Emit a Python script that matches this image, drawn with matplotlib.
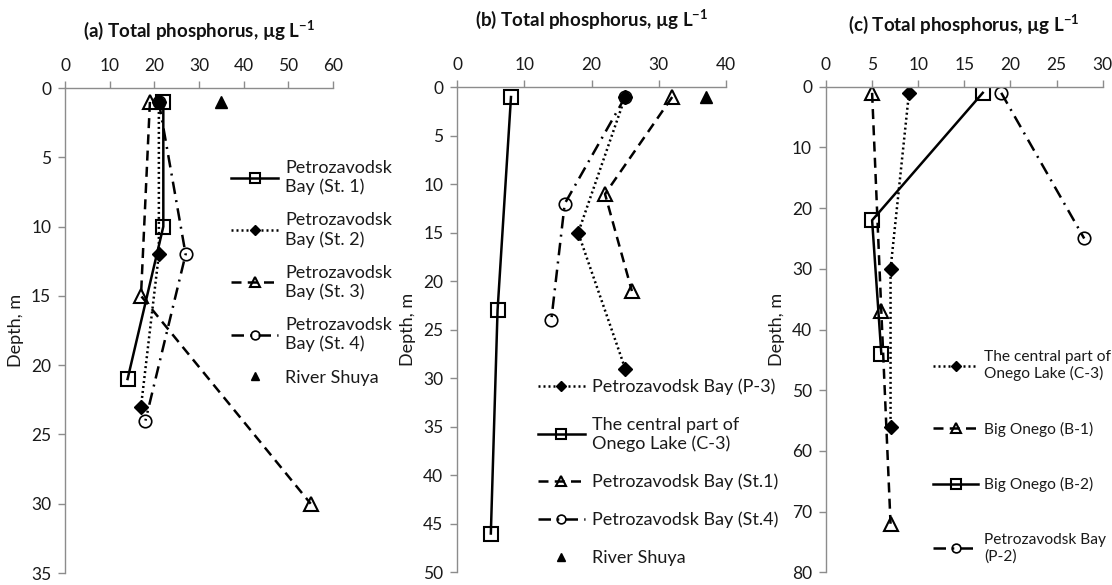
import matplotlib
matplotlib.use("Agg")
import matplotlib.pyplot as plt

plt.rcParams['font.family'] = ['Lato', 'DejaVu Sans']
plt.rcParams['mathtext.fontset'] = 'custom'
plt.rcParams['mathtext.rm'] = 'Lato'
plt.rcParams['mathtext.bf'] = 'Lato:bold'

# (a) data: (phosphorus, depth)
a_st1_tp = [22, 22, 14]
a_st1_depth = [1, 10, 21]
a_st2_tp = [21, 21, 17]
a_st2_depth = [1, 12, 23]
a_st3_tp = [19, 17, 55]
a_st3_depth = [1, 15, 30]
a_st4_tp = [21, 27, 18]
a_st4_depth = [1, 12, 24]
a_shuya_tp = [35]
a_shuya_depth = [1]

# (b)
b_p3_tp = [25, 18, 25]
b_p3_depth = [1, 15, 29]
b_c3_tp = [8, 6, 5]
b_c3_depth = [1, 23, 46]
b_st1_tp = [32, 22, 26]
b_st1_depth = [1, 11, 21]
b_st4_tp = [25, 16, 14]
b_st4_depth = [1, 12, 24]
b_shuya_tp = [37]
b_shuya_depth = [1]

# (c)
c_c3_tp = [9, 7, 7]
c_c3_depth = [1, 30, 56]
c_b1_tp = [5, 6, 7]
c_b1_depth = [1, 37, 72]
c_b2_tp = [17, 5, 6]
c_b2_depth = [1, 22, 44]
c_p2_tp = [19, 28]
c_p2_depth = [1, 25]

GRAY = '#8c8c8c'
TXT = '#1a1a1a'
LW = 1.8

# line styles
solid = dict(color='black', lw=LW, ls='-', marker='s', ms=10, mfc='none', mec='black', mew=1.5)
dotted = dict(color='black', lw=LW, ls=(0, (0.8, 1.2)), marker='D', ms=7, mfc='black', mec='black')
dashed = dict(color='black', lw=LW, ls=(0, (4, 2.5)), marker='^', ms=10, mfc='none', mec='black', mew=1.5)
dashdot = dict(color='black', lw=LW, ls=(0, (5, 2.5, 0.8, 2.5)), marker='o', ms=9, mfc='none', mec='black', mew=1.2)
shuya = dict(color='black', ls='none', marker='^', ms=9, mfc='black', mec='black')

fig = plt.figure(figsize=(11.12, 5.85), dpi=100)
ax_a = fig.add_axes([0.0585, 0.0205, 0.241, 0.829])
ax_b = fig.add_axes([0.4112, 0.0217, 0.2416, 0.829])
ax_c = fig.add_axes([0.7428, 0.0217, 0.2488, 0.830])


def style(ax, xmax, xstep, ymax, ystep, title, ty):
    ax.set_xlim(0, xmax)
    ax.set_ylim(ymax, 0)
    ax.set_xticks(range(0, xmax + 1, xstep))
    ax.set_yticks(range(0, ymax + 1, ystep))
    ax.xaxis.tick_top()
    for s in ['right', 'bottom']:
        ax.spines[s].set_visible(False)
    for s in ['left', 'top']:
        ax.spines[s].set_color(GRAY)
        ax.spines[s].set_linewidth(1)
    ax.tick_params(axis='both', colors=GRAY, labelcolor=TXT, labelsize=12.5,
                   length=5, width=1, direction='out', pad=5)
    ax.set_ylabel('Depth, m', fontsize=13, color=TXT, labelpad=5)
    ax.text(0.5, ty, title, transform=ax.transAxes, ha='center', va='center',
            fontsize=13.5, fontweight='bold', color='#111111')


# (a)
ax_a.plot(a_st1_tp, a_st1_depth, label='Petrozavodsk\nBay (St. 1)', **solid)
ax_a.plot(a_st2_tp, a_st2_depth, label='Petrozavodsk\nBay (St. 2)', **dotted)
ax_a.plot(a_st3_tp, a_st3_depth, label='Petrozavodsk\nBay (St. 3)', **dashed)
ax_a.plot(a_st4_tp, a_st4_depth, label='Petrozavodsk\nBay (St. 4)', **dashdot)
ax_a.plot(a_shuya_tp, a_shuya_depth, label='River Shuya', **shuya)
style(ax_a, 60, 10, 35, 5, r'(a) Total phosphorus, µg L$^{\mathbf{-1}}$', 1.12)
leg_a = ax_a.legend(loc='upper left', bbox_to_anchor=(0.62, 0.852), frameon=False, fontsize=13,
                    handlelength=2.6, handletextpad=0.4, labelspacing=0.95, borderpad=0,
                    borderaxespad=0, markerscale=0.7)

# (b)
ax_b.plot(b_p3_tp, b_p3_depth, label='Petrozavodsk Bay (P-3)', **dotted)
ax_b.plot(b_c3_tp, b_c3_depth, label='The central part of\nOnego Lake (C-3)', **solid)
ax_b.plot(b_st1_tp, b_st1_depth, label='Petrozavodsk Bay (St.1)', **dashed)
ax_b.plot(b_st4_tp, b_st4_depth, label='Petrozavodsk Bay (St.4)', **dashdot)
ax_b.plot(b_shuya_tp, b_shuya_depth, label='River Shuya', **shuya)
style(ax_b, 40, 10, 50, 5, r'(b) Total phosphorus, µg L$^{\mathbf{-1}}$', 1.14)
leg_b = ax_b.legend(loc='upper left', bbox_to_anchor=(0.30, 0.40), frameon=False, fontsize=13,
                    handlelength=2.6, handletextpad=0.4, labelspacing=1.2, borderpad=0,
                    borderaxespad=0, markerscale=0.7)

# (c)
ax_c.plot(c_c3_tp, c_c3_depth, label='The central part of\nOnego Lake (C-3)', **dotted)
ax_c.plot(c_b1_tp, c_b1_depth, label='Big Onego (B-1)', **dashed)
ax_c.plot(c_b2_tp, c_b2_depth, label='Big Onego (B-2)', **solid)
ax_c.plot(c_p2_tp, c_p2_depth, label='Petrozavodsk Bay\n(P-2)', **dashdot)
style(ax_c, 30, 5, 80, 10, r'(c) Total phosphorus, µg L$^{\mathbf{-1}}$', 1.13)
leg_c = ax_c.legend(loc='upper left', bbox_to_anchor=(0.387, 0.458), frameon=False, fontsize=11.2,
                    handlelength=2.9, handletextpad=0.4, labelspacing=2.6, borderpad=0,
                    borderaxespad=0, markerscale=0.7)

for leg in (leg_a, leg_b, leg_c):
    for t in leg.get_texts():
        t.set_color(TXT)

fig.savefig('out.png', dpi=100)
